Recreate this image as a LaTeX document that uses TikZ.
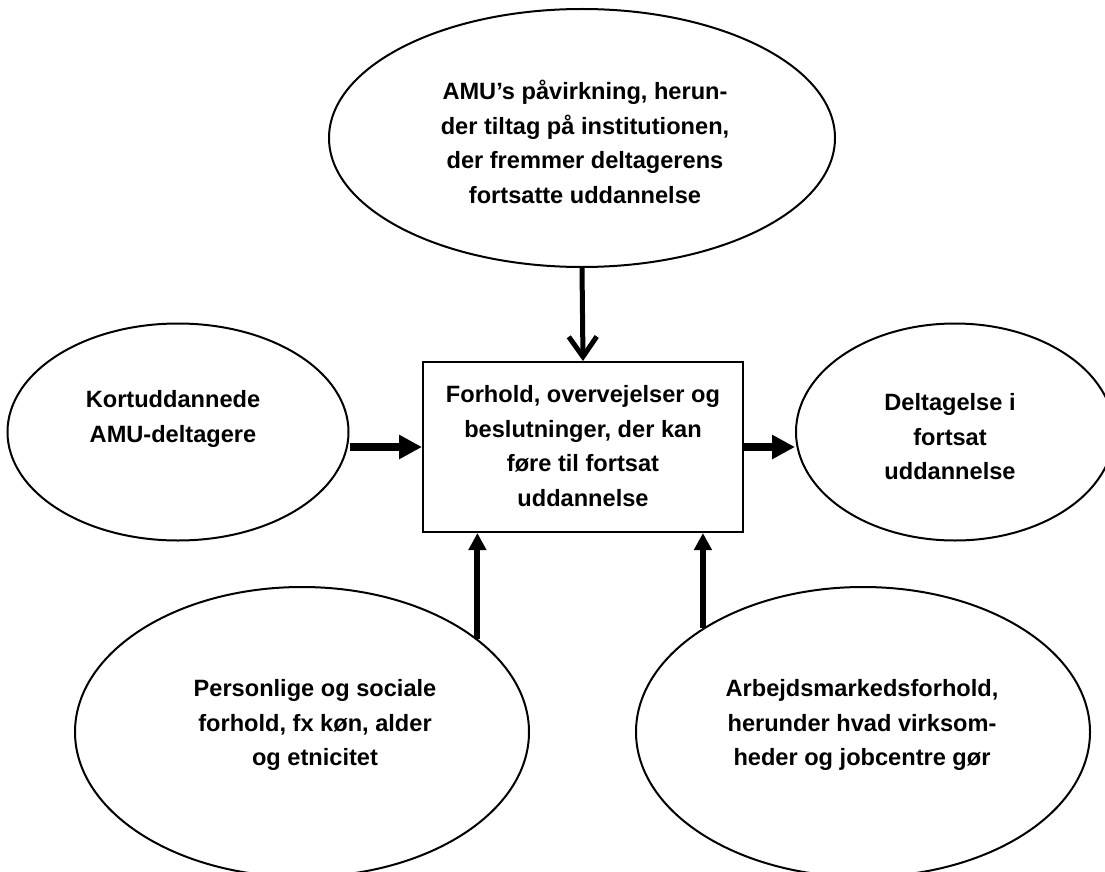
\documentclass[tikz,border=0pt]{standalone}
\usepackage{fontspec}
\setmainfont{Liberation Sans}
\usetikzlibrary{arrows.meta,shapes.geometric}
\begin{document}
\begin{tikzpicture}[x=1pt,y=-1pt,
  oval/.style={draw,line width=2pt,ellipse,inner sep=0pt},
  txt/.style={align=center,font=\fontsize{23.6}{34.5}\selectfont\bfseries,inner sep=0pt},
  toparrow/.style={line width=5pt,-{Straight Barb[length=20pt,width=28pt]}},
  sidearrow/.style={line width=8pt,-{Triangle[length=23pt,width=23pt]}},
  botarrow/.style={line width=6pt,-{Triangle[length=17pt,width=17pt]}}]
\clip (0,0) rectangle (1105,872);
\fill[white] (0,0) rectangle (1105,872);
% shapes
\node[oval,minimum width=506pt,minimum height=258pt] (topE) at (582,138) {};
\node[oval,minimum width=341pt,minimum height=217pt] (leftE) at (178,432) {};
\node[oval,minimum width=318pt,minimum height=217pt] (rightE) at (955,432) {};
\node[oval,minimum width=454pt,minimum height=290pt] (blE) at (302,732) {};
\node[oval,minimum width=454pt,minimum height=290pt] (brE) at (863,732) {};
\node[draw,line width=2pt,minimum width=320pt,minimum height=170pt,inner sep=0pt] (box) at (583,447) {};
% texts
\node[txt] (topT) at (585,142) {AMU’s påvirkning, herun-\\der tiltag på institutionen,\\der fremmer deltagerens\\fortsatte uddannelse};
\node[txt] (leftT) at (173,419) {Kortuddannede\\AMU-deltagere};
\node[txt] (boxT) at (583,446) {Forhold, overvejelser og\\beslutninger, der kan\\føre til fortsat\\uddannelse};
\node[txt] (rightT) at (950,437) {Deltagelse i\\fortsat\\uddannelse};
\node[txt] (blT) at (315,725) {Personlige og sociale\\forhold, fx køn, alder\\og etnicitet};
\node[txt] (brT) at (862,725) {Arbejdsmarkedsforhold,\\herunder hvad virksom-\\heder og jobcentre gør};
% connectors
\draw[toparrow] (topE.south) -- (box.north);
\draw[sidearrow] (leftE.east |- box.west) -- (box.west);
\draw[sidearrow] (box.east) -- (rightE.west |- box.east);
\draw[botarrow] (blE.28.4) -- (blE.28.4 |- box.south);
\draw[botarrow] (brE.147) -- (brE.147 |- box.south);
\end{tikzpicture}
\end{document}
